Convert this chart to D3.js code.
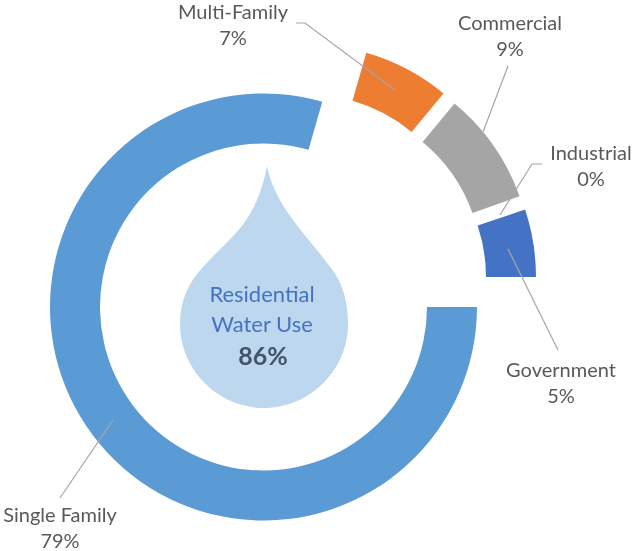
<!DOCTYPE html>
<html><head><meta charset="utf-8">
<script src="https://cdn.jsdelivr.net/npm/d3@7"></script>
<style>html,body{margin:0;padding:0;background:#fff}svg{display:block;filter:blur(0.5px)}text{font-family:Lato,"Open Sans",sans-serif}</style>
</head><body><div id="c"></div>
<script>
const categories = ["Single Family","Multi-Family","Commercial","Industrial","Government"];
const shares = [79.44,6.55,8.55,0.35,5.11];
const sliceColors = ["#5b9bd5","#ed7d31","#a5a5a5","none","#4472c4"];
const centerLines = ["Residential","Water Use"];
const centerTotal = 86;

const W=633,H=551,cx=263.5,cy=307,R=213.5,r=163.5;
const explode=[[0,0],[44,-49],[55,-39],[0,0],[59,-30]];
const leaders=[
 [[113,420],[60,498]],
 [[296,23],[305,23],[395,90]],
 [[508,66],[483,132]],
 [[542,164],[532,164],[500,215]],
 [[508,249],[558,350]]];
const labelPos=[[60,522],[233,19],[510,30],[591,160],[561,377]];

const svg=d3.select("#c").append("svg").attr("width",W).attr("height",H);
const deg=Math.PI/180;
const pie=d3.pie().sort(null).startAngle(90*deg).endAngle(450*deg);
const arc=d3.arc().innerRadius(r).outerRadius(R);
const pct=d3.format(".0f");

svg.append("g").selectAll("path").data(pie(shares)).join("path")
 .attr("d",arc).attr("fill",(d,i)=>sliceColors[i])
 .attr("transform",(d,i)=>`translate(${cx+explode[i][0]},${cy+explode[i][1]})`);

svg.append("path").attr("fill","#bdd7ee")
 .attr("d","M267,166 C271,187 282,205 293,220 C303,234 316,248 327,263 C340,278 348,296 348,324 C348,370 310,408 264,408 C218,408 180,370 180,324 C180,300 189,282 203,267 C222,246 240,232 250,214 C258,200 264,183 267,166 Z");

const line=d3.line();
svg.append("g").selectAll("path").data(leaders).join("path")
 .attr("d",line).attr("fill","none").attr("stroke","#a6a6a6").attr("stroke-width",1.2);

const lab=svg.append("g").attr("fill","#595959").attr("font-size",20).attr("text-anchor","middle");
categories.forEach((c,i)=>{
 lab.append("text").attr("x",labelPos[i][0]).attr("y",labelPos[i][1]).text(c);
 lab.append("text").attr("x",labelPos[i][0]).attr("y",labelPos[i][1]+26).text(pct(shares[i])+"%");
});

const mid=svg.append("g").attr("text-anchor","middle");
mid.selectAll("text.l").data(centerLines).join("text").attr("class","l")
 .attr("x",262).attr("y",(d,i)=>302+i*30).attr("font-size",22).attr("fill","#4472c4").text(d=>d);
mid.append("text").attr("x",263).attr("y",365).attr("font-size",25).attr("font-weight","bold").attr("fill","#44546a").text(centerTotal+"%");
</script></body></html>
